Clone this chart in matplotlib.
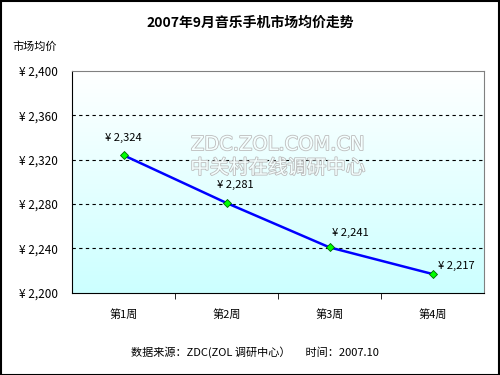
import numpy as np
import matplotlib
matplotlib.use('Agg')
import matplotlib.pyplot as plt
import matplotlib.patheffects as pe
from matplotlib.colors import LinearSegmentedColormap
from matplotlib.patches import Rectangle

plt.rcParams['font.family'] = ['Noto Sans CJK SC', 'DejaVu Sans']

weeks = ['第1周', '第2周', '第3周', '第4周']
prices = [2324, 2281, 2241, 2217]
y_ticks = [2200, 2240, 2280, 2320, 2360, 2400]

# label offsets (points) to match the original placement
label_offsets = [(0, 9), (6, 9), (15, 7), (17, 2)]

fig = plt.figure(figsize=(5, 3.75), dpi=100)
ax = fig.add_axes([0.144, 0.219, 0.824, 0.592])

# gradient background: white at top to pale cyan at bottom
cmap = LinearSegmentedColormap.from_list('bg', ['#ccffff', '#ffffff'])
grad = np.linspace(0, 1, 256).reshape(-1, 1)
ax.imshow(grad, cmap=cmap, aspect='auto', extent=[0, 1, 0, 1],
          transform=ax.transAxes, origin='lower', zorder=0)

x = np.arange(1, len(weeks) + 1)
ax.plot(x, prices, color='#0000ff', lw=1.8, zorder=3,
        marker='D', markersize=4, markerfacecolor='#00ff00',
        markeredgecolor='#006600', markeredgewidth=0.6)

for xi, p, off in zip(x, prices, label_offsets):
    ax.annotate(f'¥ {p:,}', (xi, p), xytext=off, textcoords='offset points',
                ha='center', va='bottom', fontsize=8, zorder=4)

ax.set_xlim(0.5, len(weeks) + 0.5)
ax.set_ylim(y_ticks[0], y_ticks[-1])
ax.set_yticks(y_ticks)
ax.set_yticklabels([f'¥ {v:,}' for v in y_ticks], fontsize=8.5)
ax.set_xticks(x)
ax.set_xticklabels(weeks, fontsize=8)
ax.set_xticks(x[:-1] + 0.5, minor=True)
ax.tick_params(axis='x', which='major', length=0, pad=12)
ax.tick_params(axis='x', which='minor', length=4, direction='out', color='black')
ax.tick_params(axis='y', length=0, pad=10)

for v in y_ticks[1:-1]:
    ax.axhline(v, color='black', lw=0.8, ls=(0, (3, 3)), zorder=1)

ax.spines['top'].set_color('#808080')
ax.spines['right'].set_color('#808080')
ax.spines['left'].set_color('black')
ax.spines['bottom'].set_color('black')

# watermark
wm = [pe.withStroke(linewidth=1.2, foreground='#bdbdbd')]
ax.text(0.5, 0.668, 'ZDC.ZOL.COM.CN', transform=ax.transAxes, ha='center',
        va='center', fontsize=14, color='#f4ffff', path_effects=wm, zorder=2,
        family=['DejaVu Sans'])
ax.text(0.5, 0.562, '中关村在线调研中心', transform=ax.transAxes, ha='center',
        va='center', fontsize=14, color='#f4ffff', path_effects=wm, zorder=2)

fig.text(0.5, 0.94, '2007年9月音乐手机市场均价走势', ha='center', va='center',
         fontsize=10, fontweight='bold')
fig.text(0.024, 0.877, '市场均价', ha='left', va='center', fontsize=8)
fig.text(0.51, 0.062, '数据来源：ZDC(ZOL 调研中心）      时间：2007.10',
         ha='center', va='center', fontsize=8)

fig.patches.append(Rectangle((0.001, 0.001), 0.997, 0.996, transform=fig.transFigure,
                             fill=False, edgecolor='black', lw=1.5))

fig.savefig('out.png', dpi=100)
